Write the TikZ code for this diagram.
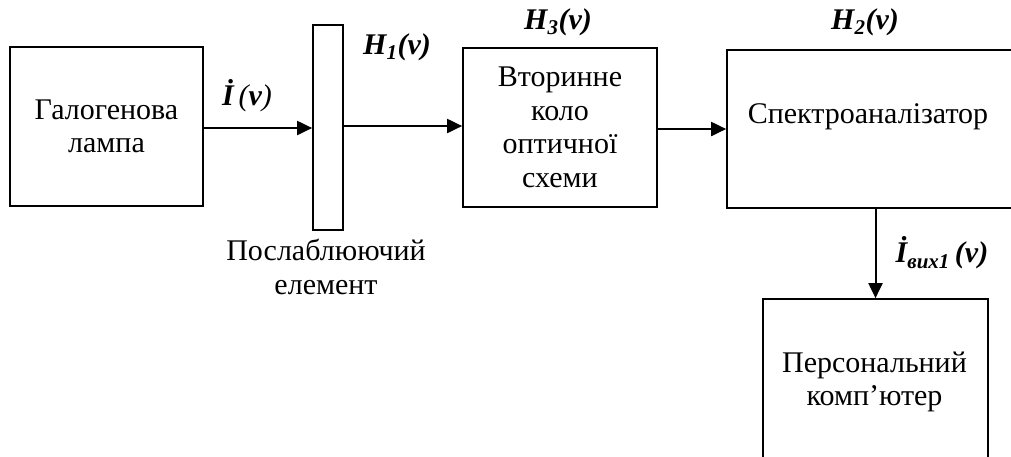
\documentclass[tikz,border=0pt]{standalone}
\usepackage{fontspec}
\setmainfont{Liberation Serif}
\usetikzlibrary{arrows.meta}
\tikzset{
  blk/.style={draw, line width=1.7pt, inner sep=0pt, align=center,
    font=\fontsize{30}{33.5}\selectfont},
  txt/.style={inner sep=0pt, align=center, font=\fontsize{30}{33.5}\selectfont},
  lbl/.style={inner sep=0pt, font=\fontsize{30}{33.5}\selectfont\bfseries\itshape},
  arr/.style={line width=2pt, -{Triangle[length=15pt,width=14pt]}}
}
\begin{document}
\begin{tikzpicture}[x=1pt,y=-1pt]
\useasboundingbox (0,0) rectangle (1011,456);
\clip (0,0) rectangle (1011,456);
\node[blk, minimum width=193pt, minimum height=159pt] (lamp) at (106.5,126.5) {Галогенова\\лампа};
\node[blk, minimum width=30pt, minimum height=205pt] (att) at (328,127.5) {};
\node[blk, minimum width=194pt, minimum height=159pt] (box3) at (560,127.5) {Вторинне\\коло\\оптичної\\схеми};
\node[blk, minimum width=303pt, minimum height=158pt] (spec) at (878.5,129) {};
\node[txt] (spectxt) at (868,117) {Спектроаналізатор};
\node[blk, minimum width=225pt, minimum height=171pt] (pc) at (875.5,384.5) {};
\node[txt] (pctxt) at (874.5,382) {Персональний\\комп’ютер};
\node[txt] (attxt) at (326,267) {Послаблюючий\\елемент};
\draw[arr] (lamp.east |- 0,128) -- (att.west |- 0,128);
\draw[arr] (att.east |- 0,126) -- (box3.west |- 0,126);
\draw[arr] (box3.east |- 0,129) -- (spec.west |- 0,129);
\draw[arr] (pc.north |- spec.south) -- (pc.north);
\node[lbl] (li) at (247,96) {İ\,{\mdseries(}v{\mdseries)}};
\node[lbl] (lh1) at (397,47) {H\textsubscript{1}(v)};
\node[lbl] (lh3) at (558,22) {H\textsubscript{3}(v)};
\node[lbl] (lh2) at (865,22) {H\textsubscript{2}(v)};
\node[lbl] (lout) at (942,253) {İ\textsubscript{вих1}\,(v)};
\end{tikzpicture}
\end{document}
